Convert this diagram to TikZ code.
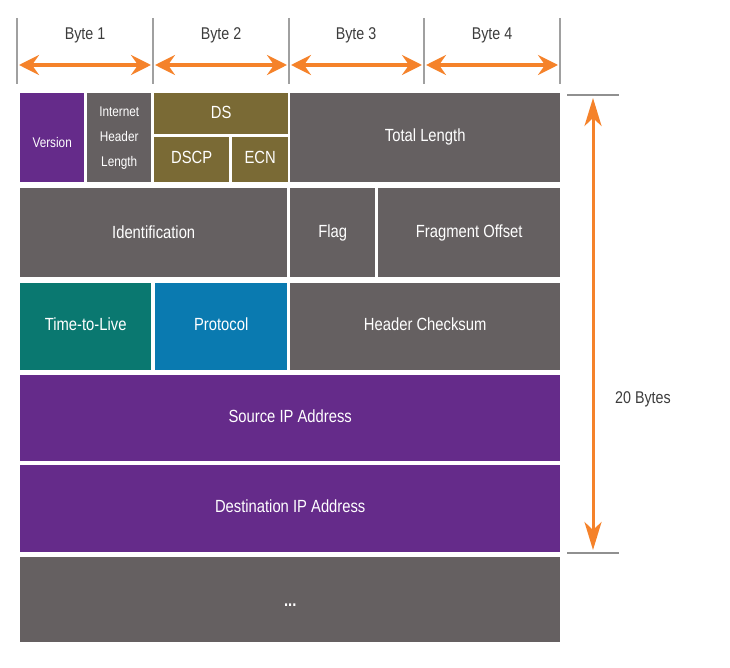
\documentclass[tikz,border=0pt]{standalone}
\usepackage{fontspec}
\setmainfont{Liberation Sans}[FakeStretch=0.84]
\usetikzlibrary{arrows.meta}

\definecolor{hdrPurple}{HTML}{652B8A}
\definecolor{hdrGray}{HTML}{656061}
\definecolor{hdrOlive}{HTML}{7A6A35}
\definecolor{hdrTeal}{HTML}{0A7870}
\definecolor{hdrBlue}{HTML}{0A7AB0}
\definecolor{hdrOrange}{HTML}{F5822A}
\definecolor{tickGray}{HTML}{A0A0A0}
\definecolor{labelGray}{HTML}{3C3C3C}

% move a label up or down without changing the box size
\newcommand{\liftby}[2]{\raisebox{#1}[\height][\depth]{#2}}

\begin{document}
\begin{tikzpicture}[x=1pt,y=-1pt,
    field/.style={anchor=north west,inner sep=0pt,text=white,align=center,font=\fontsize{17.6}{20}\selectfont},
    small field/.style={field,font=\fontsize{14}{25}\selectfont},
    byte label/.style={text=labelGray,font=\fontsize{17}{20}\selectfont},
    byte arrow/.style={hdrOrange,line width=4pt,{Stealth[length=20pt,width=20pt,inset=7pt]}-{Stealth[length=20pt,width=20pt,inset=7pt]},shorten >=2pt,shorten <=2pt},
    tick/.style={tickGray,line width=1.4pt}]
  \useasboundingbox (0,0) rectangle (730,668);

  % byte ruler on top
  \draw[tick] (17,18) -- (17,84);
  \draw[tick] (153,18) -- (153,84);
  \draw[tick] (289,18) -- (289,84);
  \draw[tick] (424,18) -- (424,84);
  \draw[tick] (560,18) -- (560,84);
  \coordinate (t0) at (17,65);
  \coordinate (t1) at (153,65);
  \coordinate (t2) at (289,65);
  \coordinate (t3) at (424,65);
  \coordinate (t4) at (560,65);
  \node[byte label] (b1) at (85,35) {Byte 1};
  \node[byte label] (b2) at (221,35) {Byte 2};
  \node[byte label] (b3) at (356,35) {Byte 3};
  \node[byte label] (b4) at (492,35) {Byte 4};
  \draw[byte arrow] (t0) -- (t1);
  \draw[byte arrow] (t1) -- (t2);
  \draw[byte arrow] (t2) -- (t3);
  \draw[byte arrow] (t3) -- (t4);

  % row 1
  \node[small field,fill=hdrPurple,minimum width=64pt,minimum height=89pt] (version) at (20,93) {\liftby{-5pt}{Version}};
  \node[small field,fill=hdrGray,minimum width=64pt,minimum height=89pt] (ihl) at (87,93) {Internet\\Header\\Length};
  \node[field,fill=hdrOlive,minimum width=134pt,minimum height=41pt] (ds) at (154,93) {\liftby{1pt}{DS}};
  \node[field,fill=hdrOlive,minimum width=75pt,minimum height=45pt] (dscp) at (154,137) {\liftby{2pt}{DSCP}};
  \node[field,fill=hdrOlive,minimum width=56pt,minimum height=45pt] (ecn) at (232,137) {\liftby{2pt}{ECN}};
  \node[field,fill=hdrGray,minimum width=270pt,minimum height=89pt] (total) at (290,93) {\liftby{1pt}{Total Length}};

  % row 2
  \node[field,fill=hdrGray,minimum width=267pt,minimum height=89pt] (ident) at (20,188) {Identification};
  \node[field,fill=hdrGray,minimum width=85pt,minimum height=89pt] (flag) at (290,188) {Flag};
  \node[field,fill=hdrGray,minimum width=182pt,minimum height=89pt] (frag) at (378,188) {Fragment Offset};

  % row 3
  \node[field,fill=hdrTeal,minimum width=131pt,minimum height=87pt] (ttl) at (20,283) {\liftby{2pt}{Time-to-Live}};
  \node[field,fill=hdrBlue,minimum width=132pt,minimum height=87pt] (proto) at (155,283) {\liftby{2pt}{Protocol}};
  \node[field,fill=hdrGray,minimum width=270pt,minimum height=87pt] (chksum) at (290,283) {\liftby{2pt}{Header Checksum}};

  % addresses
  \node[field,fill=hdrPurple,minimum width=540pt,minimum height=86pt] (src) at (20,375) {\liftby{2pt}{Source IP Address}};
  \node[field,fill=hdrPurple,minimum width=540pt,minimum height=87pt] (dst) at (20,465) {\liftby{2pt}{Destination IP Address}};
  \node[field,fill=hdrGray,minimum width=540pt,minimum height=85pt] (opts) at (20,557) {\bfseries\liftby{-5pt}{...}};

  % header size
  \draw[tickGray!90!black,line width=2pt] (567,95) -- (619,95);
  \draw[tickGray!90!black,line width=2pt] (567,553) -- (619,553);
  \coordinate (top) at (593,95);
  \coordinate (bot) at (593,553);
  \draw[hdrOrange,line width=3pt,{Stealth[length=28pt,width=17pt,inset=8pt]}-{Stealth[length=28pt,width=17pt,inset=8pt]},shorten >=3pt,shorten <=3pt] (top) -- (bot);
  \node[byte label] (size) at (643,399) {20 Bytes};
\end{tikzpicture}
\end{document}
